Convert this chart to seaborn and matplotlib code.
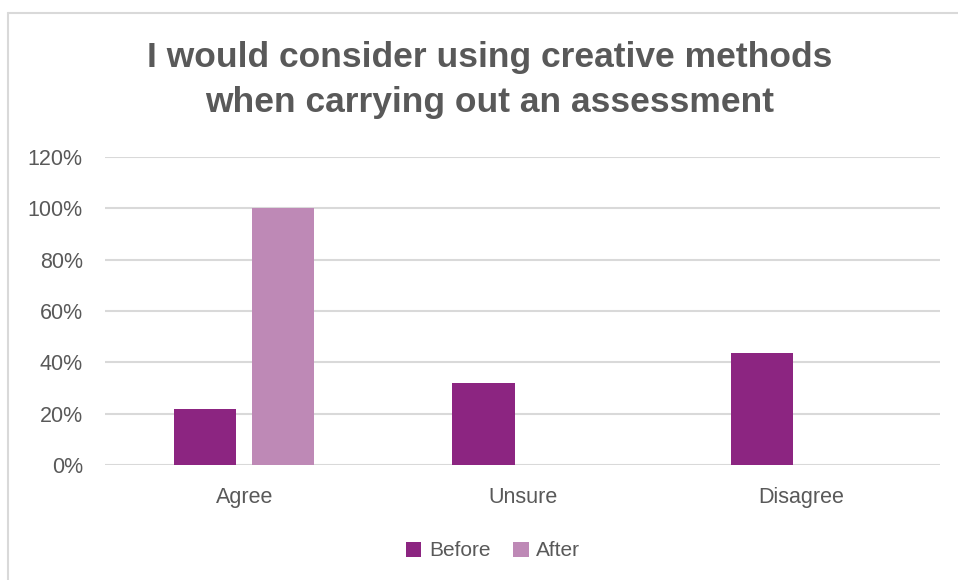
import matplotlib
matplotlib.use("Agg")
import matplotlib.pyplot as plt
from matplotlib.patches import Rectangle
from matplotlib.lines import Line2D
import pandas as pd
import seaborn as sns

# Survey responses, share of respondents
categories = ["Agree", "Unsure", "Disagree"]
before = [0.219, 0.318, 0.438]
after = [1.00, 0.0, 0.0]
series = ["Before", "After"]
y_ticks = [0.0, 0.2, 0.4, 0.6, 0.8, 1.0, 1.2]
y_tick_labels = ["0%", "20%", "40%", "60%", "80%", "100%", "120%"]
title = "I would consider using creative methods\nwhen carrying out an assessment"

colors = {"Before": "#8C2581", "After": "#BE89B6"}
text_grey = "#595959"
grid_grey = "#D9D9D9"

df = pd.DataFrame({
    "category": categories * 2,
    "value": before + after,
    "series": ["Before"] * len(categories) + ["After"] * len(categories),
})

sns.set_theme(style="white")
plt.rcParams["font.family"] = ["Liberation Sans", "DejaVu Sans"]

fig = plt.figure(figsize=(9.58, 5.80), dpi=100)
ax = fig.add_axes([105 / 958, 1 - 465 / 580, (940 - 105) / 958, (465 - 157) / 580])

sns.barplot(
    data=df, x="category", y="value", hue="series", hue_order=series,
    order=categories, palette=colors, width=0.56, gap=0.2,
    saturation=1, linewidth=0, legend=False, ax=ax,
)

ax.set_xlim(-0.5, len(categories) - 0.5)
ax.set_ylim(0, 1.2)
ax.set_yticks(y_ticks)
ax.set_yticklabels(y_tick_labels)
ax.set_xlabel("")
ax.set_ylabel("")
for s in ax.spines.values():
    s.set_visible(False)
for y in y_ticks:
    ax.axhline(y, color=grid_grey, linewidth=1.5, zorder=0)
ax.tick_params(axis="y", length=0, pad=16, labelsize=15.5, labelcolor=text_grey)
ax.tick_params(axis="x", length=0, pad=16, labelsize=15.5, labelcolor=text_grey)
for lbl in ax.get_yticklabels():
    lbl.set_horizontalalignment("right")

# Chart title
fig.text(490 / 958, 1 - 80 / 580, title, ha="center", va="center",
         fontsize=25.5, fontweight="bold", color=text_grey, linespacing=1.45)

# Legend
handles = [Rectangle((0, 0), 1, 1, facecolor=colors[s], edgecolor="none") for s in series]
fig.legend(handles, series, loc="center", bbox_to_anchor=(493 / 958, 1 - 551 / 580),
           ncol=2, frameon=False, fontsize=15, labelcolor=text_grey,
           handlelength=0.75, handleheight=0.75, handletextpad=0.35, columnspacing=1.1)

# Chart-area border
fig.add_artist(Line2D([8 / 958, 8 / 958], [0, 1 - 13 / 580], transform=fig.transFigure,
                      color=grid_grey, linewidth=1.5))
fig.add_artist(Line2D([8 / 958, 1], [1 - 13 / 580, 1 - 13 / 580], transform=fig.transFigure,
                      color=grid_grey, linewidth=1.5))

fig.savefig("out.png", dpi=100, facecolor="white")
